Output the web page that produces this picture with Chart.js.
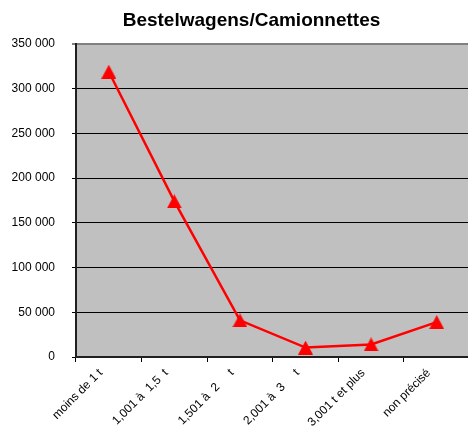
<!DOCTYPE html>
<html><head><meta charset="utf-8">
<script src="https://cdn.jsdelivr.net/npm/chart.js@4/dist/chart.umd.min.js"></script>
<style>
html,body{margin:0;padding:0;background:#fff;overflow:hidden;}
#wrap{position:relative;width:468px;height:433px;overflow:hidden;}
#title{position:absolute;left:0;top:9px;width:503px;text-align:center;font:bold 19px "Liberation Sans",Arial,sans-serif;color:#000;white-space:nowrap;}
canvas{position:absolute;left:0;top:0;}
</style></head><body>
<div id="wrap"><canvas id="c" width="480" height="433"></canvas><div id="title">Bestelwagens/Camionnettes</div></div>
<script>
const categories = ["moins de 1 t", "1,001 à\u00a0\u00a01,5\u00a0\u00a0t", "1,501 à\u00a0\u00a02\u00a0\u00a0\u00a0\u00a0\u00a0t", "2,001 à\u00a0\u00a03\u00a0\u00a0\u00a0\u00a0\u00a0t", "3,001 t et plus", "non précisé"];
const values = [319000, 174000, 41000, 10500, 14000, 39000];
const yTicks = [0, 50000, 100000, 150000, 200000, 250000, 300000, 350000];

function fmt(v){ return String(v).replace(/\B(?=(\d{3})+(?!\d))/g, " "); }

// triangle marker centred on its bounding box
const tri = document.createElement('canvas');
tri.width = 15; tri.height = 14;
(function(){ const g = tri.getContext('2d'); g.fillStyle = '#ff0000'; g.beginPath(); g.moveTo(7.5,0); g.lineTo(15,14); g.lineTo(0,14); g.closePath(); g.fill(); })();

const bgPlugin = {
  id: 'bg',
  beforeDraw(chart){
    const a = chart.chartArea, ctx = chart.ctx;
    ctx.save(); ctx.fillStyle = '#c0c0c0';
    ctx.fillRect(a.left, a.top, a.right - a.left, a.bottom - a.top);
    ctx.restore();
  }
};

new Chart(document.getElementById('c'), {
  type: 'line',
  data: { labels: categories, datasets: [{ data: values, borderColor: '#ff0000', borderWidth: 2.5, pointStyle: tri, pointRadius: 8, pointHoverRadius: 8, tension: 0, fill: false }] },
  options: {
    responsive: false, animation: false,
    layout: { padding: { top: 44, right: 0, left: 0, bottom: 0 } },
    plugins: { legend: { display: false }, tooltip: { enabled: false } },
    scales: {
      x: {
        offset: true,
        grid: { offset: true, drawOnChartArea: false, color: c => c.index >= categories.length ? 'rgba(0,0,0,0)' : '#000', tickLength: 5, lineWidth: 1 },
        border: { color: '#202020', width: 2 },
        ticks: { minRotation: 45, maxRotation: 45, autoSkip: false, padding: 4, labelOffset: -8, color: '#000', font: { family: '"Liberation Sans", Arial', size: 12 } },
        afterFit(s){ s.height = 76; }
      },
      y: {
        min: 0, max: 350000,
        afterBuildTicks(s){ s.ticks = yTicks.map(v => ({ value: v })); },
        grid: {
          color: c => c.tick && c.tick.value === 350000 ? '#808080' : '#000',
          lineWidth: c => c.tick && c.tick.value === 350000 ? 2 : 1,
          tickLength: 4
        },
        border: { color: '#202020', width: 2 },
        ticks: { padding: 17, color: '#000', callback: v => fmt(v), font: { family: '"Liberation Sans", Arial', size: 12 } },
        afterFit(s){ s.width = 76; }
      }
    }
  },
  plugins: [bgPlugin]
});
</script>
</body></html>
